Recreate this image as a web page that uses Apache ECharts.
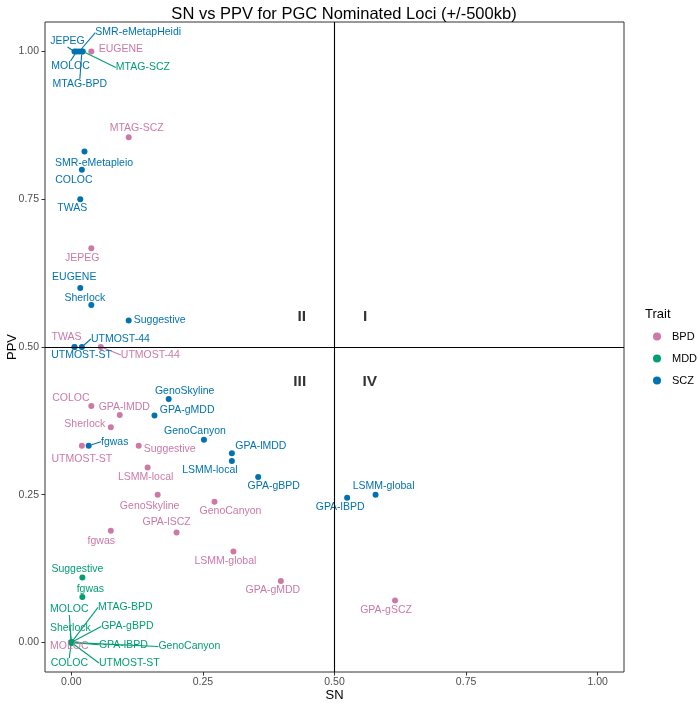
<!DOCTYPE html>
<html>
<head>
<meta charset="utf-8">
<script src="https://cdn.jsdelivr.net/npm/echarts@6/dist/echarts.min.js"></script>
<style>
    html, body { margin: 0; padding: 0; background: #fff; }
    #chart { width: 700px; height: 705px; }
</style>
</head>
<body>
<div id="chart"></div>
<script>
    var traits = ['BPD', 'MDD', 'SCZ'];
    var traitColors = ['#CC79A7', '#009E73', '#0072B2'];
    var xTicks = [0, 0.25, 0.5, 0.75, 1];
    var yTicks = [0, 0.25, 0.5, 0.75, 1];

    // BPD
    var bpdNames = ['EUGENE', 'MTAG-SCZ', 'JEPEG', 'TWAS', 'UTMOST-44', 'COLOC', 'GPA-lMDD', 'Sherlock', 'UTMOST-ST', 'Suggestive',
        'LSMM-local', 'GenoSkyline', 'GenoCanyon', 'GPA-lSCZ', 'fgwas', 'LSMM-global', 'GPA-gMDD', 'GPA-gSCZ', 'MOLOC'];
    var bpdSN = [0.038, 0.109, 0.038, 0.006, 0.056, 0.038, 0.092, 0.075, 0.020, 0.128,
        0.145, 0.164, 0.272, 0.200, 0.075, 0.308, 0.398, 0.615, 0];
    var bpdPPV = [1.0, 0.855, 0.667, 0.5, 0.5, 0.4, 0.385, 0.364, 0.333, 0.333,
        0.296, 0.25, 0.238, 0.186, 0.189, 0.154, 0.104, 0.071, 0];

    // MDD
    var mddNames = ['MTAG-SCZ', 'Suggestive', 'fgwas', 'MOLOC', 'MTAG-BPD', 'Sherlock', 'GPA-gBPD', 'GPA-lBPD', 'GenoCanyon', 'COLOC', 'UTMOST-ST'];
    var mddSN = [0.022, 0.021, 0.021, 0, 0, 0, 0, 0, 0, 0, 0];
    var mddPPV = [1.0, 0.110, 0.077, 0, 0, 0, 0, 0, 0, 0, 0];

    // SCZ
    var sczNames = ['JEPEG', 'MOLOC', 'SMR-eMetapHeidi', 'MTAG-BPD', 'SMR-eMetapleio', 'COLOC', 'TWAS', 'EUGENE', 'Sherlock', 'Suggestive',
        'UTMOST-ST', 'UTMOST-44', 'GenoSkyline', 'GPA-gMDD', 'GenoCanyon', 'fgwas', 'GPA-lMDD', 'LSMM-local', 'GPA-gBPD', 'GPA-lBPD', 'LSMM-global'];
    var sczSN = [0.006, 0.010, 0.015, 0.020, 0.025, 0.020, 0.017, 0.017, 0.038, 0.109,
        0.006, 0.020, 0.185, 0.158, 0.252, 0.033, 0.305, 0.305, 0.355, 0.524, 0.578];
    var sczPPV = [1, 1, 1, 1, 0.831, 0.8, 0.75, 0.6, 0.571, 0.545,
        0.5, 0.5, 0.412, 0.384, 0.343, 0.333, 0.32, 0.307, 0.28, 0.245, 0.25];

    // quadrant annotations
    var quadNames = ['I', 'II', 'III', 'IV'];
    var quadSN = [0.558, 0.438, 0.434, 0.567];
    var quadPPV = [0.552, 0.552, 0.441, 0.441];

    // repel-style label offsets in px (label centre minus point)
    var bpdNudge = [[29.5, -2], [8, -9], [-9, 10], [-8, -10], [49.5, 8], [-20.5, -7.7], [4.5, -8], [-26, -3], [0, 13], [31, 3.7],
        [-2, 10], [-8, 11], [16, 9.5], [-10, -10], [-9.5, 10.7], [-8, 10], [-8, 9.3], [-9, 9.3], [-2, 4]];
    var mddNudge = [[60, 16], [-5, -8], [8, -8], [-2, -33], [54, -35], [-1, -14.5], [56, -16], [52, 2.3], [118, 4], [-2, 21], [58, 20.6]];
    var sczNudge = [[-7, -10], [-6, 15], [59, -19], [-2, 33], [9.5, 11.7], [-8, 10], [-8, 9], [-6, -11], [-6.5, -7], [31, 0],
        [7, 8], [38.5, -8], [16, -8], [32.7, -5.7], [-9, -9], [26, -4], [29, -7], [-22, 9], [15.6, 9], [-7, 9.3], [8, -9]];

    var bpdSegs = ['UTMOST-44'];
    var mddSegs = ['MTAG-SCZ', 'MOLOC', 'MTAG-BPD', 'Sherlock', 'GPA-gBPD', 'GPA-lBPD', 'GenoCanyon', 'COLOC', 'UTMOST-ST'];
    var sczSegs = ['JEPEG', 'MOLOC', 'SMR-eMetapHeidi', 'MTAG-BPD', 'UTMOST-44', 'fgwas'];

    var font = 'Liberation Sans, Arial, sans-serif';

    function traitSeries(trait, color, names, sn, ppv, nudge, segs) {
        return {
            name: trait,
            type: 'scatter',
            symbolSize: 6,
            itemStyle: { color: color, opacity: 1 },
            label: {
                show: true,
                position: 'inside',
                formatter: '{b}',
                color: color,
                fontSize: 10.5,
                fontFamily: font
            },
            labelLine: { show: false, lineStyle: { color: color, width: 1.1 } },
            labelLayout: function (p) {
                var n = nudge[p.dataIndex];
                return { dx: n[0], dy: n[1] };
            },
            emphasis: { disabled: true },
            data: names.map(function (nm, i) {
                return { name: nm, value: [sn[i], ppv[i]], labelLine: { show: segs.indexOf(nm) >= 0 } };
            })
        };
    }

    var series = [
        traitSeries(traits[0], traitColors[0], bpdNames, bpdSN, bpdPPV, bpdNudge, bpdSegs),
        traitSeries(traits[1], traitColors[1], mddNames, mddSN, mddPPV, mddNudge, mddSegs),
        traitSeries(traits[2], traitColors[2], sczNames, sczSN, sczPPV, sczNudge, sczSegs)
    ];
    series[0].markLine = {
        silent: true,
        symbol: 'none',
        label: { show: false },
        lineStyle: { color: '#000', type: 'solid', width: 1.1 },
        data: [{ xAxis: 0.5 }, { yAxis: 0.5 }]
    };
    series.push({
        name: 'quadrants',
        type: 'scatter',
        symbolSize: 0.1,
        itemStyle: { color: 'transparent' },
        silent: true,
        label: {
            show: true,
            position: 'inside',
            formatter: '{b}',
            color: '#000',
            fontSize: 15.5,
            fontWeight: 'bold',
            fontFamily: font
        },
        data: quadNames.map(function (nm, i) { return { name: nm, value: [quadSN[i], quadPPV[i]] }; })
    });

    var chart = echarts.init(document.getElementById('chart'));
    chart.setOption({
        animation: false,
        backgroundColor: '#fff',
        textStyle: { fontFamily: font },
        title: [
            {
                text: 'SN vs PPV for PGC Nominated Loci (+/-500kb)',
                left: 339,
                top: 1,
                textAlign: 'center',
                textStyle: { fontSize: 16.5, fontWeight: 'normal', color: '#000', fontFamily: font }
            },
            {
                text: 'Trait',
                left: 640,
                top: 303,
                textStyle: { fontSize: 13, fontWeight: 'normal', color: '#000', fontFamily: font }
            }
        ],
        legend: {
            data: traits,
            orient: 'vertical',
            left: 648,
            top: 326,
            icon: 'circle',
            itemWidth: 14,
            itemHeight: 8,
            itemGap: 11,
            selectedMode: false,
            textStyle: { fontSize: 11, color: '#000', fontFamily: font, padding: [0, 0, 0, 3] }
        },
        grid: {
            left: 45,
            right: 76,
            top: 22,
            bottom: 33,
            show: true,
            borderColor: '#333',
            borderWidth: 1,
            outerBoundsMode: 'none'
        },
        xAxis: {
            type: 'value',
            min: -0.05,
            max: 1.05,
            name: 'SN',
            nameLocation: 'middle',
            nameGap: 17,
            nameMoveOverlap: false,
            nameTextStyle: { fontSize: 13, color: '#000' },
            axisLine: { show: false, onZero: false },
            splitLine: { show: false },
            axisTick: { show: true, length: 3.5, customValues: xTicks, lineStyle: { color: '#333' } },
            axisLabel: {
                customValues: xTicks,
                formatter: function (v) { return v.toFixed(2); },
                color: '#4d4d4d',
                fontSize: 10.5,
                margin: 5
            }
        },
        yAxis: {
            type: 'value',
            min: -0.05,
            max: 1.05,
            name: 'PPV',
            nameLocation: 'middle',
            nameGap: 26,
            nameMoveOverlap: false,
            nameTextStyle: { fontSize: 13, color: '#000' },
            axisLine: { show: false, onZero: false },
            splitLine: { show: false },
            axisTick: { show: true, length: 3.5, customValues: yTicks, lineStyle: { color: '#333' } },
            axisLabel: {
                customValues: yTicks,
                formatter: function (v) { return v.toFixed(2); },
                color: '#4d4d4d',
                fontSize: 10.5,
                margin: 6
            }
        },
        series: series
    });
</script>
</body>
</html>
